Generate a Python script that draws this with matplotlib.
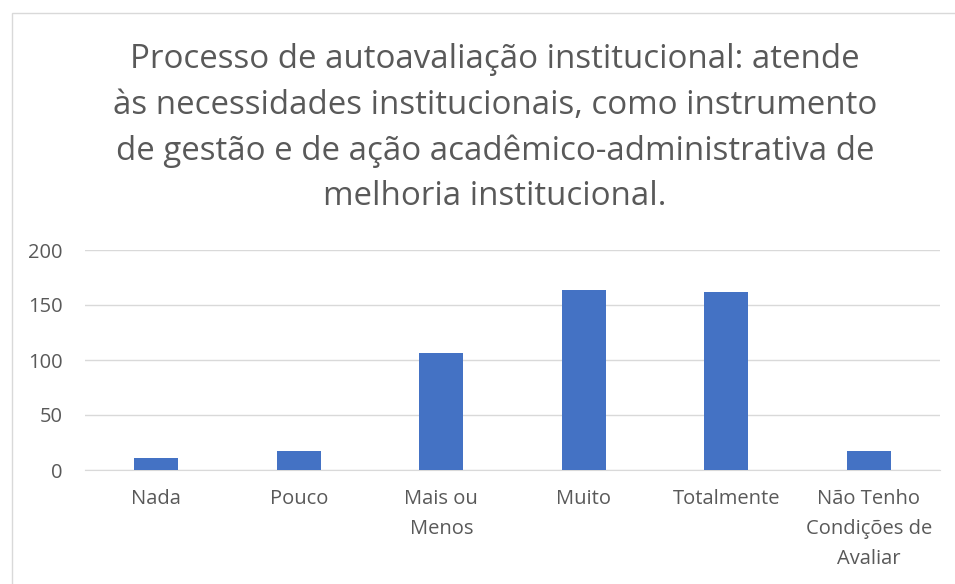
import matplotlib.pyplot as plt
from matplotlib.patches import Rectangle

categories = ["Nada", "Pouco", "Mais ou\nMenos", "Muito", "Totalmente",
              "Não Tenho\nCondições de\nAvaliar"]
values = [11, 17, 106, 164, 162, 17]
yticks = [0, 50, 100, 150, 200]

title = ("Processo de autoavaliação institucional: atende\n"
         "às necessidades institucionais, como instrumento\n"
         "de gestão e de ação acadêmico-administrativa de\n"
         "melhoria institucional.")

plt.rcParams['font.family'] = ['Open Sans', 'DejaVu Sans']
gray = '#595959'

fig = plt.figure(figsize=(9.55, 5.84), dpi=100)
ax = fig.add_axes([85 / 955, 114 / 584, 855 / 955, 220 / 584])

x = range(len(categories))
ax.bar(x, values, width=0.31, color='#4472C4', zorder=3)

ax.set_xlim(-0.5, len(categories) - 0.5)
ax.set_ylim(0, 200)
ax.set_yticks(yticks)
ax.set_xticks(list(x))
ax.set_xticklabels(categories, linespacing=1.65)
ax.tick_params(axis='both', length=0, labelsize=14.5, labelcolor=gray)
ax.tick_params(axis='x', pad=14)
ax.tick_params(axis='y', pad=16)

ax.grid(axis='y', color='#d9d9d9', linewidth=1, zorder=0)
for side in ['top', 'right', 'left']:
    ax.spines[side].set_visible(False)
ax.spines['bottom'].set_color('#d9d9d9')

fig.text(495 / 955, 1 - 43 / 584, title, ha='center', va='top',
         fontsize=23.8, color=gray, linespacing=1.5)

fig.patches.append(Rectangle((12 / 955, -0.1), 1.2, 1 - 13 / 584 + 0.1,
                             transform=fig.transFigure, fill=False,
                             edgecolor='#d9d9d9', linewidth=1))

fig.savefig('out.png', dpi=100)
